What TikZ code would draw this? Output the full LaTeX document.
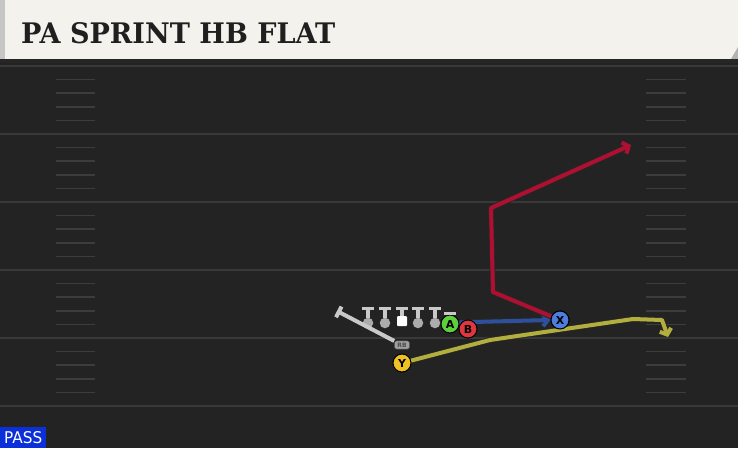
\documentclass[tikz,border=0pt]{standalone}
\usepackage{fontspec}
\setmainfont{DejaVu Sans}
\newfontfamily\titlefont{DejaVu Serif}
\usetikzlibrary{arrows.meta,positioning}
\definecolor{field}{HTML}{232323}
\definecolor{yardline}{HTML}{393939}
\definecolor{hashline}{HTML}{3C3C3C}
\definecolor{cream}{HTML}{F4F2EC}
\definecolor{redroute}{HTML}{AF0F31}
\definecolor{blueroute}{HTML}{2D4F9C}
\definecolor{yellowroute}{HTML}{B3AF3E}
\definecolor{agreen}{HTML}{5CD13B}
\definecolor{bred}{HTML}{E2363F}
\definecolor{xblue}{HTML}{4C7FDD}
\definecolor{yyellow}{HTML}{F0C125}
\definecolor{passblue}{HTML}{0B2FD9}
\definecolor{blockgray}{HTML}{C9C9C9}
\tikzset{player/.style={circle,draw=black,line width=1pt,minimum size=18pt,inner sep=0pt,
		font=\bfseries\fontsize{11}{11}\selectfont},
	lineman/.style={circle,fill=gray!65,minimum size=10.5pt,inner sep=0pt},
	block/.style={draw=blockgray,line width=3.5pt,-{Bar[width=12pt]}},
	route/.style={line width=4pt,line join=round,
			preaction={draw=black!85,line width=5.8pt},
			-{Straight Barb[length=5pt,width=12pt]}}}

\begin{document}
\begin{tikzpicture}[x=1pt,y=-1pt]
	\useasboundingbox (0,0) rectangle (738,448);

	% field and title bar
	\fill[field] (0,59) rectangle (738,448);
	\fill[cream] (0,0) rectangle (738,59);
	\fill[gray!45] (0,0) rectangle (5,59);
	\fill[gray!60] (731,59) -- (738,47) -- (738,59) -- cycle;
	\fill[black!85] (0,59) rectangle (738,63);
	\node[anchor=base west,inner sep=0pt,text=black!88] (title) at (21,43)
	{\resizebox{314pt}{21pt}{\titlefont\bfseries PA SPRINT HB FLAT}};

	% yard lines and hashes
	\foreach \y in {66,134,202,270,338,406}
	\draw[yardline,line width=2pt] (0,\y) -- (738,\y);
	\foreach \y in {66,134,202,270,338}
	\foreach \k in {1,...,4}{
			\draw[hashline,line width=1.6pt] (56,\y+13.6*\k) -- (95,\y+13.6*\k);
			\draw[hashline,line width=1.6pt] (646,\y+13.6*\k) -- (686,\y+13.6*\k);
		}

	% offensive line
	\foreach \n/\x in {lt/368,lg/385,rg/418,rt/435}{
			\node[lineman] (\n) at (\x,323) {};
			\draw[block] (\n.north) -- ++(0,-11);
		}
	\node[lineman,fill=white,rectangle,rounded corners=1pt,minimum size=10pt] (c) at (402,321) {};
	\draw[block] (c.north) -- ++(0,-9);

	% running back
	\coordinate (rbend) at (337,311);
	\node[fill=gray!75,draw=black!70,rounded corners=2.5pt,inner xsep=3pt,inner ysep=2pt,
		font=\bfseries\fontsize{6}{6}\selectfont,text=black!70] (rb) at (402,345) {RB};
	\draw[block,line width=4pt] (rb) -- (rbend);

	% routes
	\coordinate (r1) at (493,292);
	\coordinate (r2) at (491,208);
	\coordinate (r3) at (631,145);
	\coordinate (y1) at (490,340);
	\coordinate (y2) at (633,319);
	\coordinate (y3) at (662,320);
	\coordinate (y4) at (668,337);

	\node[player,fill=agreen] (A) at (450,324) {A};
	\draw[block] (A.north) -- ++(0,-3);
	\node[player,fill=xblue] (X) at (560,320) {X};
	\draw[route,blueroute] (A.10) -- (X.west);
	\node[player,fill=bred] (B) at (468,329) {B};
	\draw[route,redroute] (X) -- (r1) -- (r2) -- (r3);
	\node[player,fill=yyellow] (Y) at (402,363) {Y};
	\draw[route,yellowroute] (Y) -- (y1) -- (y2) -- (y3) -- (y4);
	\node[player,fill=xblue] at (X) {X};

	% play type
	\node[anchor=south west,fill=passblue,text=white,minimum width=46pt,minimum height=21pt,
		inner sep=0pt] (pass) at (0,448) {\resizebox{38pt}{12pt}{PASS}};
\end{tikzpicture}
\end{document}
